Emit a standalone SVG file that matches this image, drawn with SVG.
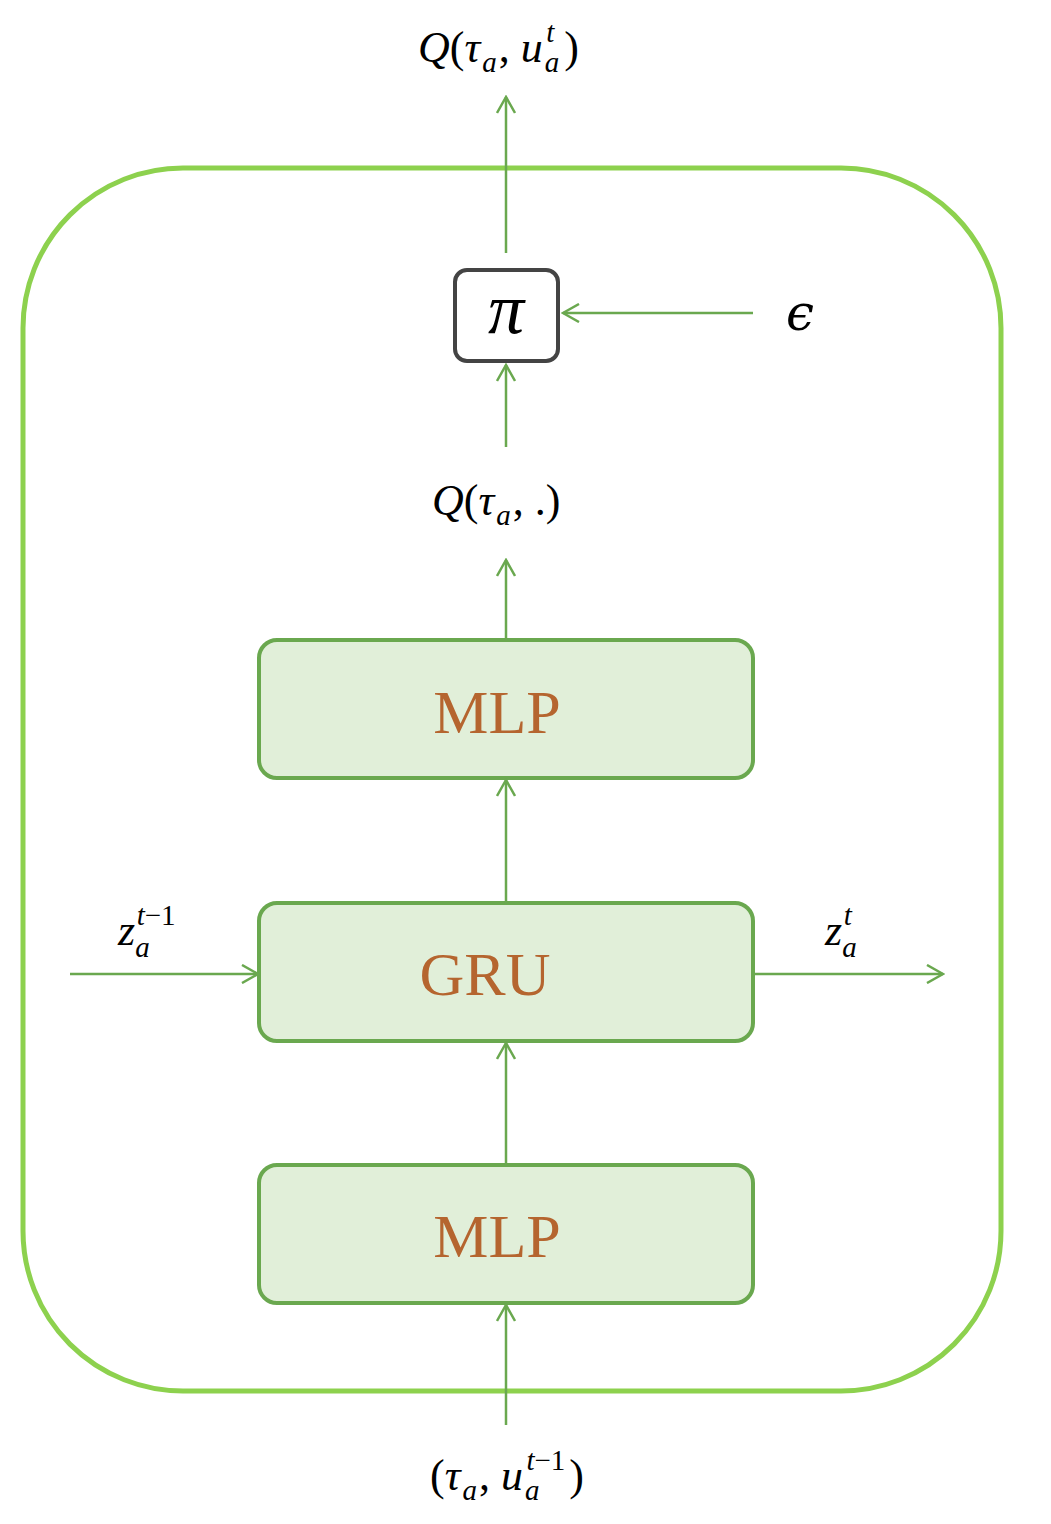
<svg xmlns="http://www.w3.org/2000/svg" width="1051" height="1524" viewBox="0 0 1051 1524">
<style>
.c{stroke:#6aa84f;stroke-width:2.5;fill:none}
.n{fill:#e1efd9;stroke:#6aa84f;stroke-width:4}
.lbl{font-family:"Liberation Serif",serif;font-size:62px;fill:#b5652f;text-anchor:middle}
.m{font-family:"Liberation Serif",serif;font-size:44px;fill:#000}
.i{font-style:italic}
.s{font-size:29px}
</style>
<defs>
<marker id="a" viewBox="0 0 20 20" refX="18" refY="10" markerWidth="20" markerHeight="20" markerUnits="userSpaceOnUse" orient="auto">
<path d="M2,1 L18,10 L2,19" fill="none" stroke="#6aa84f" stroke-width="2.5"/>
</marker>
</defs>
<rect x="23" y="168" width="978" height="1223" rx="160" fill="none" stroke="#8dd14e" stroke-width="5"/>
<g id="pi"><rect x="455" y="270" width="103" height="91" rx="12" fill="#fff" stroke="#444" stroke-width="4"/>
<text x="506" y="333" font-family="Liberation Serif,serif" font-style="italic" font-size="72" text-anchor="middle">π</text></g>
<g id="mlp2"><rect class="n" x="259" y="640" width="494" height="138" rx="18"/><text class="lbl" x="497" y="733">MLP</text></g>
<g id="gru"><rect class="n" x="259" y="903" width="494" height="138" rx="18"/><text class="lbl" x="485" y="995">GRU</text></g>
<g id="mlp1"><rect class="n" x="259" y="1165" width="494" height="138" rx="18"/><text class="lbl" x="497" y="1257">MLP</text></g>
<g id="connectors">
<line class="c" x1="506" y1="253" x2="506" y2="97" marker-end="url(#a)"/>
<line class="c" x1="506" y1="447" x2="506" y2="365" marker-end="url(#a)"/>
<line class="c" x1="753" y1="313" x2="563" y2="313" marker-end="url(#a)"/>
<line class="c" x1="506" y1="640" x2="506" y2="560" marker-end="url(#a)"/>
<line class="c" x1="506" y1="903" x2="506" y2="780" marker-end="url(#a)"/>
<line class="c" x1="506" y1="1165" x2="506" y2="1043" marker-end="url(#a)"/>
<line class="c" x1="506" y1="1425" x2="506" y2="1305" marker-end="url(#a)"/>
<line class="c" x1="70" y1="974" x2="258" y2="974" marker-end="url(#a)"/>
<line class="c" x1="755" y1="974" x2="943" y2="974" marker-end="url(#a)"/>
</g>
<g id="labels">
<text class="m" x="418" y="62"><tspan class="i">Q</tspan>(<tspan class="i">τ</tspan><tspan class="i s" dx="2" dy="10">a</tspan><tspan dx="2" dy="-10">, </tspan><tspan class="i">u</tspan><tspan class="i s" dx="2" dy="10">a</tspan><tspan class="i s" dx="-13" dy="-30">t</tspan><tspan dx="10" dy="20">)</tspan></text>
<text x="800" y="330" font-family="DejaVu Serif,serif" font-style="italic" font-size="50" text-anchor="middle">ϵ</text>
<text class="m" x="432" y="515"><tspan class="i">Q</tspan>(<tspan class="i">τ</tspan><tspan class="i s" dx="2" dy="10">a</tspan><tspan dx="2" dy="-10">, .)</tspan></text>
<text class="m" x="118" y="945"><tspan class="i">z</tspan><tspan class="i s" dy="12">a</tspan><tspan class="s" dx="-13" dy="-32"><tspan class="i">t</tspan>−1</tspan></text>
<text class="m" x="825" y="945"><tspan class="i">z</tspan><tspan class="i s" dy="12">a</tspan><tspan class="i s" dx="-13" dy="-32">t</tspan></text>
<text class="m" x="430" y="1490">(<tspan class="i">τ</tspan><tspan class="i s" dx="2" dy="10">a</tspan><tspan dx="2" dy="-10">, </tspan><tspan class="i">u</tspan><tspan class="i s" dx="2" dy="10">a</tspan><tspan class="s" dx="-13" dy="-30"><tspan class="i">t</tspan>−1</tspan><tspan dx="4" dy="20">)</tspan></text>
</g>
</svg>
